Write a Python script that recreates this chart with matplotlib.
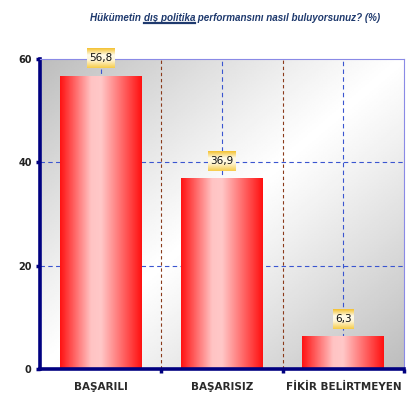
import numpy as np
import matplotlib
matplotlib.use('Agg')
import matplotlib.pyplot as plt
from matplotlib.colors import LinearSegmentedColormap

categories = ['BAŞARILI', 'BAŞARISIZ', 'FİKİR BELİRTMEYEN']
values = [56.8, 36.9, 6.3]
value_labels = ['56,8', '36,9', '6,3']
yticks = [0, 20, 40, 60]

navy = '#000080'
W, H = 420, 398
fig = plt.figure(figsize=(W/100, H/100), dpi=100)
ax = fig.add_axes([40/W, 1 - 369/H, 364/W, 310/H])

# background: gray -> white -> gray along the top-left / bottom-right diagonal
u, v = np.meshgrid(np.linspace(0, 1, 200), np.linspace(0, 1, 200))
t = np.abs((u + v) / 2 - 0.5) * 2
bg = 1 - 0.26 * t ** 1.1
ax.imshow(bg, cmap='gray', vmin=0, vmax=1, extent=(-0.5, 2.5, 0, 60), origin='upper',
          aspect='auto', zorder=0, interpolation='bilinear')

# grid
for y in yticks[1:-1]:
    ax.axhline(y, color='#3a55d0', lw=0.8, ls=(0, (4, 3)), zorder=1)
for i in range(len(categories)):
    ax.axvline(i, color='#3a55d0', lw=0.8, ls=(0, (4, 3)), zorder=1)
for b in [0.5, 1.5]:
    ax.axvline(b, color='#8b3a1a', lw=0.8, ls=(0, (3, 2.5)), zorder=1)

# bars with horizontal red-pink-red gradient
bar_cmap = LinearSegmentedColormap.from_list(
    'bar', [(0, '#ff1414'), (0.38, '#ffc4c4'), (0.5, '#ffc8c8'), (1, '#ff1212')])
box_cmap = LinearSegmentedColormap.from_list(
    'box', [(0, '#f4c232'), (0.35, '#fffbea'), (0.6, '#fff6d8'), (1, '#f6cd4c')])
grad = np.linspace(0, 1, 100).reshape(1, -1)
vgrad = np.linspace(0, 1, 50).reshape(-1, 1)
w = 0.675
bars = ax.bar(range(len(categories)), values, w, facecolor='none', edgecolor='none', zorder=2)
texts = []
for i, (bar, val) in enumerate(zip(bars, values)):
    im = ax.imshow(grad, cmap=bar_cmap, extent=(i - w/2, i + w/2, 0, val),
                   aspect='auto', zorder=2, interpolation='bilinear')
    im.set_clip_path(bar)
    texts.append(ax.text(i, val + 3.3, value_labels[i], ha='center', va='center',
                         fontsize=7.5, color='#111111', zorder=5, clip_on=False))
ax.set_ylim(0, 60)
ax.set_xlim(-0.5, 2.5)

# axes styling
for s in ['left', 'bottom']:
    ax.spines[s].set_color(navy)
    ax.spines[s].set_linewidth(2.6)
for s in ['top', 'right']:
    ax.spines[s].set_color('#8a8ae6')
    ax.spines[s].set_linewidth(0.8)

ax.set_yticks(yticks)
ax.set_yticklabels([str(y) for y in yticks], fontsize=7, fontweight='bold', color='#222222')
ax.tick_params(axis='y', length=3, width=2.5, color=navy, pad=3)
ax.set_xticks(range(len(categories)))
ax.set_xticklabels(categories, fontsize=7.5, fontweight='bold', color='#2a2a2a')
ax.tick_params(axis='x', length=0, pad=9)
ax.set_xticks([0.5, 1.5, 2.5], minor=True)
ax.tick_params(axis='x', which='minor', length=3, width=2.5, color=navy)

fig.canvas.draw()
r = fig.canvas.get_renderer()
inv = ax.transData.inverted()

# gold gradient boxes behind the value labels
for txt in texts:
    bb = txt.get_window_extent(renderer=r)
    (x0, y0) = inv.transform((bb.x0 - 2, bb.y0 - 5))
    (x1, y1) = inv.transform((bb.x1 + 2, bb.y1 + 5))
    ax.imshow(vgrad, cmap=box_cmap, extent=(x0, x1, y0, y1), origin='upper',
              aspect='auto', zorder=4, interpolation='bilinear', clip_on=False)
ax.set_ylim(0, 60)
ax.set_xlim(-0.5, 2.5)

# title with underlined part
title_parts = ['Hükümetin ', 'dış politika', ' performansını nasıl buluyorsunuz? (%)']
tcolor = '#1f3a6e'
tfont = dict(fontsize=8, fontstyle='italic', fontweight='bold', family='Liberation Sans')
probe = fig.text(0, 0, ''.join(title_parts), **tfont)
pw = probe.get_window_extent(renderer=r).width
probe.remove()
tfont['fontsize'] *= 293 / pw
x = 90 / W
ty = 1 - 21 / H
for k, part in enumerate(title_parts):
    tx = fig.text(x, ty, part, color=tcolor, ha='left', va='baseline', **tfont)
    bb = tx.get_window_extent(renderer=r)
    if k == 1:
        fig.add_artist(plt.Line2D([bb.x0 / W + 0.002, bb.x1 / W], [ty - 2/H, ty - 2/H],
                                  color=tcolor, lw=1.6, transform=fig.transFigure))
    x = bb.x1 / W

fig.savefig('out.png', dpi=100)
